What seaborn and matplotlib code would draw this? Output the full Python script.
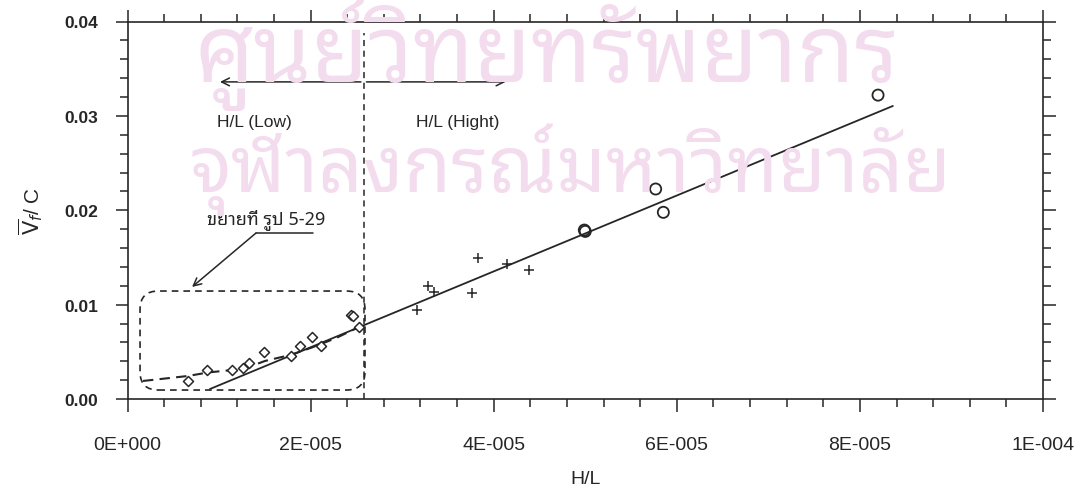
import matplotlib
matplotlib.use("Agg")
import matplotlib.pyplot as plt
import numpy as np
import pandas as pd
import seaborn as sns
from matplotlib import font_manager as fm
from matplotlib.ft2font import FT2Font
from matplotlib.patches import FancyBboxPatch
from matplotlib.ticker import MultipleLocator, FixedLocator, FixedFormatter

# ---- data -------------------------------------------------------------
# low H/L runs (open diamonds)
low_x = [6.64e-6, 8.65e-6, 1.138e-5, 1.265e-5, 1.330e-5, 1.494e-5, 1.786e-5,
         1.884e-5, 2.019e-5, 2.110e-5, 2.440e-5, 2.460e-5, 2.529e-5]
low_y = [0.00194, 0.00307, 0.00307, 0.00328, 0.00381, 0.00501, 0.00459,
         0.00565, 0.00654, 0.00565, 0.00890, 0.00880, 0.00760]
# intermediate H/L runs (plus signs)
mid_x = [3.165e-5, 3.279e-5, 3.351e-5, 3.760e-5, 3.832e-5, 4.142e-5, 4.386e-5]
mid_y = [0.00946, 0.01200, 0.01137, 0.01123, 0.01491, 0.01430, 0.01370]
# high H/L runs (open circles)
high_x = [4.990e-5, 5.000e-5, 5.769e-5, 5.853e-5, 8.198e-5]
high_y = [0.01790, 0.01776, 0.02225, 0.01978, 0.03220]
# straight fit through the whole range
fit_x = [9.01e-6, 8.36e-5]
fit_y = [0.00106, 0.03105]
# curved fit through the low H/L runs
low_fit_x = [1.69e-6, 4.10e-6, 6.61e-6, 8.79e-6, 1.141e-5, 1.338e-5,
             1.502e-5, 1.775e-5, 2.015e-5, 2.267e-5, 2.540e-5]
low_fit_y = [0.00191, 0.00217, 0.00244, 0.00281, 0.00307, 0.00344,
             0.00403, 0.00466, 0.00546, 0.00641, 0.00768]

x_ticks = [0, 2e-5, 4e-5, 6e-5, 8e-5, 1e-4]
x_tick_labels = ["0E+000", "2E-005", "4E-005", "6E-005", "8E-005", "1E-004"]
y_ticks = [0.00, 0.01, 0.02, 0.03, 0.04]
y_tick_labels = ["0.00", "0.01", "0.02", "0.03", "0.04"]

split_x = 2.58e-5          # boundary between low and high H/L
zoom_box = (1.37e-6, 0.00095, 2.594e-5, 0.01144)   # x0, y0, x1, y1

watermark_lines = ["ศูนย์วิทยทรัพยากร", "จุฬาลงกรณ์มหาวิทยาลัย"]
zoom_note = "ขยายที่ รูป 5-29"

# ---- fonts ------------------------------------------------------------
def family_with_glyph(char, prefer=()):
    found = []
    for f in fm.fontManager.ttflist:
        try:
            if FT2Font(f.fname).get_char_index(ord(char)):
                found.append(f.name)
        except Exception:
            continue
    for p in prefer:
        for name in found:
            if p.lower() in name.lower():
                return name
    return found[0] if found else "DejaVu Sans"

sns.set_theme(style="ticks")
plt.rcParams["font.family"] = ["Liberation Sans", "DejaVu Sans"]
thai_font = family_with_glyph("ศ", prefer=("Noto Sans Thai", "Thai", "Loma", "Garuda", "Tlwg"))

ink = "#262626"
wm_color = "#f3dcee"

fig = plt.figure(figsize=(10.81, 5.02), dpi=100)
fig.patch.set_facecolor("white")
ax = fig.add_axes([127.5 / 1081, 102 / 502, 915.5 / 1081, 377.5 / 502])

# watermark behind everything
fig.text(194 / 1081, 1 - 55 / 502, watermark_lines[0], family=thai_font,
         fontsize=67, color=wm_color, ha="left", va="center", zorder=0)
fig.text(190 / 1081, 1 - 170 / 502, watermark_lines[1], family=thai_font,
         fontsize=56, color=wm_color, ha="left", va="center", zorder=0)
ax.patch.set_alpha(0)

df_low = pd.DataFrame({"H/L": low_x, "V": low_y})
df_mid = pd.DataFrame({"H/L": mid_x, "V": mid_y})
df_high = pd.DataFrame({"H/L": high_x, "V": high_y})

sns.lineplot(x=fit_x, y=fit_y, color=ink, lw=1.3, ax=ax, zorder=3)
sns.lineplot(x=low_fit_x, y=low_fit_y, color=ink, lw=1.5,
             linestyle=(0, (5, 3)), ax=ax, zorder=3)

sns.scatterplot(data=df_low, x="H/L", y="V", marker="D", s=26, ax=ax, zorder=4)
c = ax.collections[-1]
c.set_facecolor("white"); c.set_edgecolor(ink); c.set_linewidth(1.1)

sns.scatterplot(data=df_mid, x="H/L", y="V", marker="+", s=60, color=ink,
                linewidth=1.1, ax=ax, zorder=4)

sns.scatterplot(data=df_high, x="H/L", y="V", marker="o", s=64, ax=ax, zorder=4)
c = ax.collections[-1]
c.set_facecolor("none"); c.set_edgecolor(ink); c.set_linewidth(1.3)

# low / high region marker
ax.plot([split_x, split_x], [0, 0.0388], color=ink, lw=1.1,
        linestyle=(0, (4, 3)), zorder=2)
arrow_y = 0.0336
ax.annotate("", xy=(1.01e-5, arrow_y), xytext=(split_x - 3e-7, arrow_y),
            arrowprops=dict(arrowstyle="->", color=ink, lw=1.1,
                            shrinkA=0, shrinkB=0, mutation_scale=14))
ax.annotate("", xy=(4.13e-5, arrow_y), xytext=(split_x + 3e-7, arrow_y),
            arrowprops=dict(arrowstyle="->", color=ink, lw=1.1,
                            shrinkA=0, shrinkB=0, mutation_scale=14))
ax.text(9.78e-6, 0.0294, "H/L (Low)", fontsize=12.5, color=ink,
        ha="left", va="center")
ax.text(3.151e-5, 0.0294, "H/L (Hight)", fontsize=12.5, color=ink,
        ha="left", va="center")

# rounded box around the low H/L runs
x0, y0, x1, y1 = zoom_box
ax.add_patch(FancyBboxPatch((x0, y0), x1 - x0, y1 - y0,
                            boxstyle="round,pad=0,rounding_size=2.0e-6",
                            mutation_aspect=968, fill=False, edgecolor=ink,
                            lw=1.2, linestyle=(0, (4, 3)), zorder=2))

# note pointing to the box
ax.text(8.7e-6, 0.0191, zoom_note, family=[thai_font, "DejaVu Sans"],
        fontsize=13, fontweight="bold", color=ink, ha="left", va="center")
ax.plot([2.026e-5, 1.404e-5], [0.01759, 0.01759], color=ink, lw=1.1)
ax.annotate("", xy=(7.05e-6, 0.01187), xytext=(1.404e-5, 0.01759),
            arrowprops=dict(arrowstyle="->", color=ink, lw=1.1,
                            shrinkA=0, shrinkB=0, mutation_scale=14))

# axes
ax.set_xlim(0, 1e-4)
ax.set_ylim(0, 0.04)
ax.xaxis.set_major_locator(FixedLocator(x_ticks))
ax.xaxis.set_major_formatter(FixedFormatter(x_tick_labels))
ax.xaxis.set_minor_locator(MultipleLocator(4e-6))
ax.yaxis.set_major_locator(FixedLocator(y_ticks))
ax.yaxis.set_major_formatter(FixedFormatter(y_tick_labels))
ax.yaxis.set_minor_locator(MultipleLocator(0.002))

for s in ax.spines.values():
    s.set_visible(True); s.set_color(ink); s.set_linewidth(1.2)
ax.tick_params(which="both", direction="out", color=ink, width=1.1,
               top=True, right=True)
ax.tick_params(which="major", length=9)
ax.tick_params(which="minor", length=6)
ax.tick_params(axis="x", which="major", pad=18, labelsize=14, labelcolor=ink)
ax.tick_params(axis="y", which="major", pad=12, labelsize=12.5, labelcolor=ink)
for lab in ax.get_yticklabels():
    lab.set_fontweight("bold")

ax.set_xlabel("H/L", fontsize=14, color=ink, labelpad=12)
ax.set_ylabel(r"$\overline{\mathrm{V}}_{f}$/ C", fontsize=15, color=ink, labelpad=14)
ax.grid(False)

fig.savefig("out.png", dpi=100, facecolor="white")
